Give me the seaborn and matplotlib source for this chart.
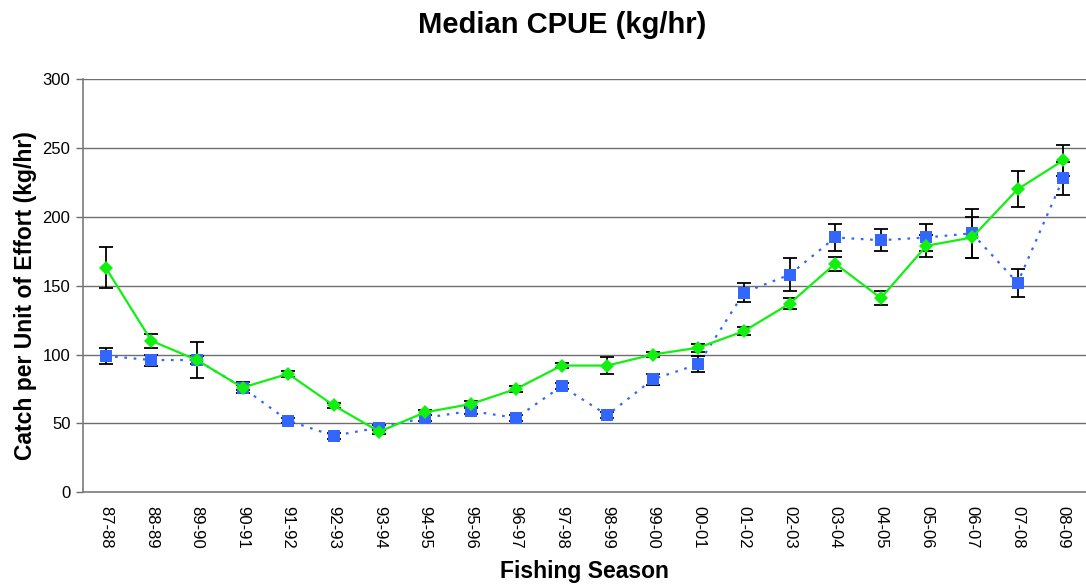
import numpy as np
import pandas as pd
import matplotlib
matplotlib.use("Agg")
import matplotlib.pyplot as plt
import seaborn as sns

seasons = ["87-88", "88-89", "89-90", "90-91", "91-92", "92-93", "93-94", "94-95",
           "95-96", "96-97", "97-98", "98-99", "99-00", "00-01", "01-02", "02-03",
           "03-04", "04-05", "05-06", "06-07", "07-08", "08-09"]

green_cpue = [163, 110, 96, 76, 86, 63, 44, 58, 64, 75, 92, 92, 100, 105, 117, 137,
              166, 141, 179, 185, 220, 241]
green_err = [15, 5, 3, 2, 2, 2, 2, 2, 2, 2, 2, 6, 2, 3, 3, 4, 5, 5, 8, 15, 13, 11]

blue_cpue = [99, 96, 96, 76, 52, 41, 47, 54, 59, 54, 77, 56, 82, 93, 145, 158,
             185, 183, 185, 188, 152, 228]
blue_err = [6, 4, 13, 4, 2, 2, 2, 2, 2, 2, 2, 2, 4, 6, 7, 12, 10, 8, 10, 18, 10, 12]

y_ticks = [0, 50, 100, 150, 200, 250, 300]

sns.set_theme(style="white")
plt.rcParams["font.family"] = ["Liberation Sans", "DejaVu Sans"]
plt.rcParams["text.color"] = "black"
plt.rcParams["axes.labelcolor"] = "black"
plt.rcParams["xtick.color"] = "black"
plt.rcParams["ytick.color"] = "black"

x = np.arange(len(seasons))
df = pd.DataFrame({
    "pos": np.concatenate([x, x]),
    "cpue": green_cpue + blue_cpue,
    "series": ["A"] * len(seasons) + ["B"] * len(seasons),
})

fig = plt.figure(figsize=(10.86, 5.86), dpi=100)
ax = fig.add_axes([0.0764, 0.160, 0.9236, 0.705])

for yv in y_ticks[1:]:
    ax.axhline(yv, color="#6e6e6e", lw=1.0, zorder=0)

green = "#11f011"
blue = "#3366ff"

ax.errorbar(x, blue_cpue, yerr=blue_err, fmt="none", ecolor="black",
            elinewidth=1.3, capsize=5, capthick=1.3, zorder=2)
ax.errorbar(x, green_cpue, yerr=green_err, fmt="none", ecolor="black",
            elinewidth=1.3, capsize=5, capthick=1.3, zorder=2)

sns.lineplot(data=df[df.series == "B"], x="pos", y="cpue", ax=ax, color=blue,
             lw=1.6, marker="s", markersize=8, markeredgewidth=0,
             linestyle=(0, (1.2, 3.0)), zorder=3, legend=False)
sns.lineplot(data=df[df.series == "A"], x="pos", y="cpue", ax=ax, color=green,
             lw=1.6, marker="D", markersize=7.5, markeredgewidth=0,
             zorder=4, legend=False)

ax.set_xlim(-0.5, len(seasons) - 0.5)
ax.set_ylim(0, 300)
ax.set_yticks(y_ticks)
ax.set_yticklabels([str(v) for v in y_ticks], fontsize=12)
ax.set_xticks(x)
ax.set_xticklabels(seasons, rotation=270, fontsize=12)
ax.set_xticks(np.arange(-0.5, len(seasons), 1.0), minor=True)
ax.tick_params(axis="x", which="major", length=0, pad=10)
ax.tick_params(axis="x", which="minor", length=5, color="#6e6e6e", width=1, direction="out")
ax.tick_params(axis="y", length=5, color="#6e6e6e", width=1, direction="out", pad=4, left=True)

for side in ["top", "right"]:
    ax.spines[side].set_visible(False)
for side in ["left", "bottom"]:
    ax.spines[side].set_color("#7a7a7a")
    ax.spines[side].set_linewidth(1.2)

ax.set_xlabel("Fishing Season", fontsize=16.5, fontweight="bold")
ax.xaxis.set_label_coords(0.5, -0.165)
ax.set_ylabel("Catch per Unit of Effort (kg/hr)", fontsize=16.5, fontweight="bold")
ax.yaxis.label.set_va("center")
ax.yaxis.set_label_coords(-0.0575, 0.477)
fig.text(0.5175, 0.958, "Median CPUE (kg/hr)", ha="center", va="center",
         fontsize=21, fontweight="bold")

fig.savefig("out.png", dpi=100, facecolor="white")
